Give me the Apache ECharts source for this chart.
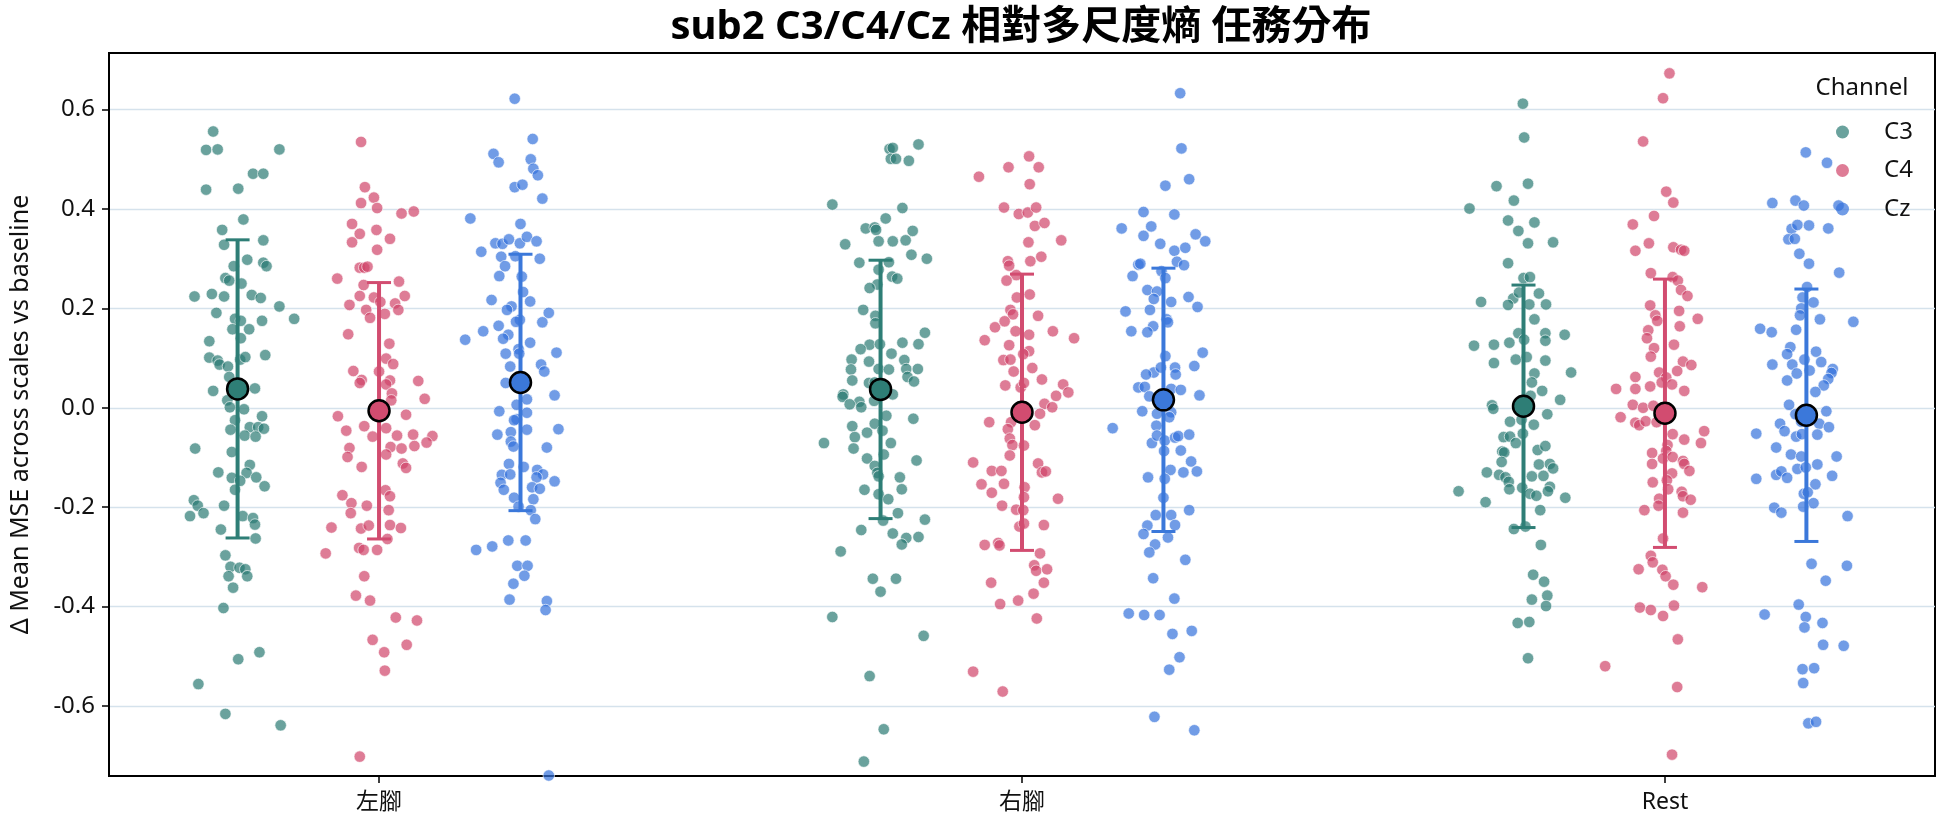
<!DOCTYPE html>
<html>
<head>
<meta charset="utf-8">
<title>sub2 C3/C4/Cz 相對多尺度熵 任務分布</title>
<script src="https://cdn.jsdelivr.net/npm/echarts@6/dist/echarts.min.js"></script>
<style>
  html, body { margin: 0; padding: 0; background: #fff; }
  #chart { width: 1944px; height: 827px; }
</style>
</head>
<body>
<div id="chart"></div>
<script>
// categories / channels
const categories = ['左腳', '右腳', 'Rest'];
const channels = ['C3', 'C4', 'Cz'];
const yTicks = [-0.6, -0.4, -0.2, 0.0, 0.2, 0.4, 0.6];

// per-trial values + horizontal jitter of each dot
const c3Left = [0.556,0.519,0.520,0.520,0.471,0.471,0.439,0.441,0.379,0.358,0.337,0.328,0.298,0.292,0.285,0.285,0.261,0.256,0.250,0.224,0.229,0.224,0.227,0.221,0.204,0.191,0.179,0.179,0.175,0.175,0.158,0.158,0.140,0.134,0.106,0.101,0.095,0.087,0.083,0.097,0.102,0.062,0.034,0.039,0.015,0.001,-0.003,-0.017,-0.025,-0.039,-0.039,-0.042,-0.044,-0.056,-0.058,-0.082,-0.089,-0.115,-0.130,-0.131,-0.141,-0.147,-0.140,-0.158,-0.165,-0.186,-0.197,-0.197,-0.218,-0.212,-0.218,-0.222,-0.235,-0.245,-0.263,-0.297,-0.320,-0.322,-0.325,-0.339,-0.339,-0.362,-0.403,-0.492,-0.506,-0.556,-0.616,-0.639];
const c3LeftJit = [-0.038,-0.049,-0.031,0.065,0.024,0.040,-0.049,0.001,0.009,-0.024,0.040,-0.021,0.015,0.040,0.045,-0.006,-0.019,-0.013,0.006,-0.067,-0.040,-0.021,0.022,0.036,0.065,-0.033,0.088,-0.004,0.005,0.038,-0.008,0.018,0.005,-0.044,0.043,-0.044,-0.031,-0.028,-0.015,0.004,0.012,-0.013,-0.038,0.027,-0.016,-0.012,0.010,0.038,-0.004,0.019,0.032,0.041,-0.011,0.011,0.028,-0.066,-0.009,0.019,-0.030,0.014,-0.009,0.004,0.029,0.042,-0.004,-0.068,-0.062,-0.021,-0.074,-0.053,0.008,0.024,0.027,-0.026,0.028,-0.019,-0.011,0.003,0.012,0.015,-0.014,-0.007,-0.022,0.034,0.001,-0.061,-0.019,0.067];

const c4Left = [0.535,0.444,0.423,0.412,0.402,0.391,0.395,0.370,0.350,0.358,0.333,0.340,0.318,0.282,0.282,0.284,0.260,0.247,0.254,0.225,0.222,0.225,0.207,0.197,0.213,0.210,0.197,0.181,0.189,0.148,0.129,0.099,0.088,0.074,0.073,0.056,0.050,0.055,0.047,0.054,0.029,0.015,0.018,-0.017,-0.014,-0.046,-0.037,-0.058,-0.041,-0.056,-0.054,-0.057,-0.081,-0.079,-0.082,-0.077,-0.070,-0.099,-0.094,-0.119,-0.112,-0.121,-0.176,-0.192,-0.197,-0.166,-0.178,-0.212,-0.206,-0.241,-0.243,-0.237,-0.236,-0.242,-0.264,-0.293,-0.282,-0.286,-0.286,-0.339,-0.378,-0.388,-0.422,-0.428,-0.467,-0.492,-0.477,-0.529,-0.702];
const c4LeftJit = [-0.028,-0.022,-0.008,-0.028,-0.003,0.035,0.054,-0.042,-0.030,-0.004,-0.042,0.017,-0.003,-0.030,-0.023,-0.018,-0.065,-0.024,0.031,-0.030,-0.008,0.040,-0.046,-0.020,0.002,0.025,0.030,-0.014,0.009,-0.048,0.016,0.011,0.022,-0.040,0.000,-0.027,-0.030,0.017,0.011,0.061,0.020,0.019,0.071,-0.064,0.042,-0.051,-0.023,-0.010,0.011,0.028,0.053,0.083,-0.046,0.018,0.035,0.055,0.074,-0.049,0.011,-0.027,0.037,0.042,-0.057,-0.043,-0.019,0.010,0.017,-0.044,0.015,-0.074,-0.028,-0.016,0.017,0.034,0.013,-0.083,-0.031,-0.024,-0.003,-0.023,-0.036,-0.014,0.026,0.059,-0.010,0.008,0.043,0.009,-0.030];

const czLeft = [0.622,0.541,0.511,0.494,0.500,0.481,0.468,0.444,0.449,0.421,0.381,0.370,0.331,0.330,0.339,0.331,0.344,0.335,0.314,0.304,0.300,0.285,0.305,0.265,0.264,0.217,0.233,0.214,0.204,0.197,0.191,0.172,0.177,0.173,0.137,0.154,0.165,0.147,0.139,0.131,0.118,0.109,0.109,0.111,0.083,0.087,0.073,0.050,0.017,0.025,0.006,-0.007,-0.010,-0.023,-0.025,-0.054,-0.049,-0.044,-0.043,-0.068,-0.078,-0.080,-0.113,-0.119,-0.135,-0.134,-0.125,-0.134,-0.140,-0.148,-0.151,-0.165,-0.160,-0.163,-0.181,-0.184,-0.199,-0.206,-0.224,-0.286,-0.279,-0.267,-0.267,-0.318,-0.318,-0.338,-0.354,-0.386,-0.389,-0.407,-0.740];
const czLeftJit = [-0.009,0.019,-0.042,-0.034,0.016,0.020,0.027,-0.009,0.003,0.034,-0.078,0.000,-0.039,-0.028,-0.018,-0.001,0.010,0.025,-0.061,-0.030,0.030,-0.024,-0.008,-0.033,0.002,-0.045,0.004,0.015,-0.014,-0.021,0.044,0.034,-0.001,-0.007,-0.086,-0.058,-0.034,-0.019,-0.027,0.015,-0.003,-0.002,-0.023,0.056,-0.016,0.032,0.037,-0.023,0.010,0.053,-0.006,-0.033,0.010,-0.006,-0.010,-0.036,-0.015,0.010,0.059,-0.015,-0.011,0.041,-0.018,0.005,-0.029,-0.016,0.026,0.035,0.025,0.053,-0.031,-0.026,0.018,0.030,-0.010,0.020,-0.003,0.016,0.023,-0.069,-0.044,-0.019,0.008,-0.005,0.011,0.006,-0.011,-0.017,0.041,0.039,0.044];

const c3Right = [0.530,0.521,0.523,0.501,0.501,0.497,0.409,0.402,0.381,0.361,0.363,0.358,0.356,0.329,0.335,0.335,0.337,0.308,0.300,0.292,0.293,0.278,0.264,0.260,0.248,0.241,0.197,0.185,0.170,0.151,0.127,0.118,0.128,0.131,0.128,0.097,0.093,0.109,0.096,0.077,0.078,0.077,0.078,0.078,0.055,0.050,0.051,0.062,0.053,0.027,0.022,0.012,0.007,0.001,0.014,0.027,-0.016,-0.022,-0.037,-0.032,-0.050,-0.046,-0.071,-0.059,-0.071,-0.082,-0.094,-0.102,-0.117,-0.106,-0.131,-0.138,-0.140,-0.165,-0.164,-0.174,-0.184,-0.227,-0.212,-0.225,-0.246,-0.253,-0.262,-0.275,-0.260,-0.289,-0.344,-0.344,-0.370,-0.421,-0.459,-0.540,-0.647,-0.712];
const c3RightJit = [0.059,0.014,0.019,0.016,0.024,0.044,-0.075,0.034,0.008,-0.023,-0.009,-0.007,0.050,-0.055,-0.003,0.019,0.039,0.048,0.072,-0.033,0.013,-0.003,0.018,0.026,-0.005,-0.017,-0.027,-0.008,-0.008,0.069,-0.017,-0.031,-0.001,0.034,0.059,-0.045,-0.018,0.017,0.037,-0.046,-0.003,0.013,0.040,0.058,-0.044,-0.018,-0.009,0.042,0.052,-0.058,-0.059,-0.033,-0.048,-0.030,-0.010,0.019,0.009,0.051,-0.044,-0.009,-0.021,0.003,-0.088,-0.040,0.016,-0.042,0.005,-0.021,-0.009,0.056,-0.005,-0.003,0.030,-0.025,0.033,-0.003,0.012,0.004,0.027,0.069,-0.030,0.019,0.040,0.033,0.059,-0.062,-0.012,0.024,0.000,-0.075,0.067,-0.017,0.005,-0.026];

const c4Right = [0.506,0.484,0.484,0.465,0.450,0.403,0.390,0.393,0.403,0.366,0.372,0.337,0.333,0.295,0.286,0.295,0.304,0.267,0.256,0.228,0.222,0.197,0.188,0.185,0.162,0.174,0.154,0.147,0.154,0.140,0.136,0.126,0.114,0.108,0.096,0.097,0.073,0.080,0.057,0.045,0.041,0.050,0.047,0.031,0.024,0.008,0.001,-0.012,-0.029,-0.029,-0.043,-0.035,-0.062,-0.075,-0.076,-0.096,-0.110,-0.112,-0.127,-0.127,-0.130,-0.128,-0.154,-0.153,-0.160,-0.171,-0.180,-0.197,-0.205,-0.206,-0.183,-0.239,-0.233,-0.236,-0.276,-0.272,-0.277,-0.293,-0.317,-0.328,-0.325,-0.352,-0.352,-0.395,-0.388,-0.374,-0.424,-0.531,-0.571];
const c4RightJit = [0.011,-0.021,0.026,-0.067,0.012,-0.028,-0.005,0.009,0.022,0.020,0.035,0.061,0.010,-0.022,-0.020,0.013,0.030,-0.009,-0.024,0.012,-0.008,-0.018,-0.014,0.025,-0.042,-0.027,-0.010,0.011,0.048,0.081,-0.058,-0.020,0.011,0.002,-0.029,-0.018,-0.013,0.016,0.031,-0.026,-0.002,0.003,0.064,0.072,0.053,0.035,0.047,0.028,-0.051,-0.017,-0.022,0.020,-0.019,-0.015,0.003,-0.019,-0.076,0.025,-0.047,-0.032,0.031,0.037,-0.063,-0.028,0.004,-0.047,0.003,-0.031,-0.009,0.002,0.056,-0.004,0.003,0.034,-0.058,-0.037,-0.035,0.028,0.019,0.022,0.039,-0.048,0.034,-0.034,-0.006,0.018,0.023,-0.076,-0.030];

const czRight = [0.633,0.522,0.460,0.447,0.394,0.389,0.361,0.365,0.346,0.330,0.349,0.335,0.316,0.322,0.294,0.287,0.288,0.290,0.265,0.275,0.261,0.237,0.234,0.219,0.213,0.223,0.203,0.194,0.197,0.178,0.172,0.164,0.154,0.152,0.104,0.111,0.071,0.081,0.081,0.067,0.067,0.084,0.041,0.042,0.023,0.038,0.036,0.025,-0.007,-0.012,-0.009,-0.041,-0.036,-0.019,-0.071,-0.056,-0.066,-0.060,-0.057,-0.054,-0.087,-0.086,-0.125,-0.108,-0.130,-0.128,-0.140,-0.143,-0.181,-0.216,-0.216,-0.206,-0.236,-0.237,-0.254,-0.261,-0.275,-0.291,-0.306,-0.343,-0.384,-0.414,-0.417,-0.417,-0.455,-0.449,-0.502,-0.527,-0.622,-0.649];
const czRightJit = [0.026,0.028,0.040,0.003,-0.031,0.017,-0.065,-0.019,-0.031,-0.005,0.050,0.065,0.017,0.034,0.021,0.032,-0.039,-0.036,-0.048,-0.003,0.003,-0.025,-0.010,-0.015,0.012,0.039,0.053,-0.059,-0.021,0.005,0.007,-0.016,-0.050,-0.025,0.003,0.061,-0.015,-0.004,0.018,-0.027,0.019,0.048,-0.039,-0.029,-0.022,0.012,0.027,0.056,-0.033,-0.010,0.012,-0.079,-0.011,0.009,-0.018,-0.010,0.002,0.018,0.023,0.040,0.001,0.027,0.011,0.043,0.031,0.052,-0.024,0.002,0.000,-0.012,0.012,0.040,0.018,-0.025,-0.031,0.007,-0.013,-0.022,0.034,-0.016,0.017,-0.054,-0.030,-0.006,0.014,0.044,0.025,0.009,-0.014,0.048];

const c3Rest = [0.612,0.544,0.446,0.451,0.417,0.401,0.377,0.373,0.356,0.331,0.333,0.291,0.261,0.263,0.230,0.213,0.220,0.232,0.207,0.208,0.208,0.178,0.150,0.150,0.135,0.147,0.125,0.127,0.131,0.137,0.090,0.097,0.102,0.095,0.071,0.069,0.051,0.034,0.024,0.016,0.005,-0.002,0.001,-0.013,-0.028,-0.024,-0.034,-0.059,-0.058,-0.071,-0.052,-0.088,-0.090,-0.085,-0.077,-0.109,-0.114,-0.113,-0.122,-0.130,-0.135,-0.140,-0.149,-0.164,-0.161,-0.138,-0.137,-0.159,-0.173,-0.177,-0.168,-0.168,-0.190,-0.181,-0.206,-0.244,-0.239,-0.276,-0.336,-0.350,-0.378,-0.386,-0.399,-0.433,-0.431,-0.504];
const c3RestJit = [-0.001,0.001,-0.042,0.007,-0.015,-0.084,-0.024,0.017,-0.008,0.007,0.046,-0.024,0.000,0.010,0.024,-0.066,-0.016,-0.007,-0.024,0.009,0.035,0.017,-0.008,0.034,0.034,0.064,-0.077,-0.046,-0.022,0.001,-0.046,-0.012,0.005,0.034,0.074,0.017,0.013,0.029,0.011,0.057,-0.049,-0.047,-0.009,0.037,-0.021,-0.003,0.016,-0.031,-0.021,-0.012,-0.001,-0.033,-0.030,0.022,0.034,-0.034,0.024,0.041,0.046,-0.057,-0.038,-0.028,-0.023,-0.022,-0.002,0.013,0.031,0.041,0.010,0.020,0.038,-0.101,-0.059,0.065,0.026,-0.015,0.003,0.027,0.015,0.032,0.037,0.013,0.035,-0.009,0.009,0.007];

const c4Rest = [0.673,0.623,0.536,0.435,0.413,0.386,0.369,0.331,0.316,0.323,0.318,0.316,0.271,0.263,0.256,0.237,0.225,0.206,0.186,0.195,0.179,0.175,0.164,0.156,0.140,0.120,0.127,0.103,0.093,0.086,0.074,0.071,0.061,0.062,0.038,0.038,0.043,0.051,0.047,0.034,0.006,0.000,0.004,-0.019,-0.030,-0.035,-0.027,-0.029,-0.053,-0.064,-0.047,-0.071,-0.075,-0.087,-0.091,-0.113,-0.102,-0.099,-0.107,-0.113,-0.127,-0.132,-0.150,-0.146,-0.164,-0.169,-0.178,-0.185,-0.183,-0.197,-0.206,-0.211,-0.263,-0.298,-0.311,-0.325,-0.326,-0.339,-0.356,-0.361,-0.402,-0.407,-0.398,-0.419,-0.466,-0.520,-0.562,-0.698];
const c4RestJit = [0.007,-0.003,-0.034,0.002,0.013,-0.017,-0.050,-0.025,-0.046,0.013,0.025,0.030,-0.022,0.012,0.020,0.025,0.035,-0.023,-0.015,0.022,0.051,-0.012,0.023,-0.026,-0.028,-0.017,0.014,-0.022,0.028,0.041,0.019,-0.009,0.002,-0.046,-0.046,-0.076,-0.023,-0.005,0.011,0.030,-0.050,-0.034,-0.018,-0.069,-0.046,-0.040,-0.030,-0.013,0.012,0.030,0.061,0.056,0.004,0.002,-0.020,-0.020,-0.003,0.012,0.028,0.030,0.038,0.011,-0.019,0.003,0.005,0.026,0.028,0.040,-0.009,-0.010,-0.032,0.028,-0.003,-0.022,-0.019,-0.041,-0.004,0.001,0.013,0.058,-0.039,-0.022,0.014,-0.003,0.020,-0.093,0.019,0.011];

const czRest = [0.514,0.493,0.412,0.417,0.407,0.407,0.360,0.368,0.367,0.361,0.339,0.340,0.310,0.290,0.272,0.243,0.222,0.212,0.200,0.186,0.178,0.173,0.159,0.152,0.157,0.122,0.108,0.113,0.087,0.087,0.097,0.075,0.092,0.078,0.070,0.069,0.055,0.058,0.045,0.032,0.006,-0.007,-0.013,-0.032,-0.047,-0.028,-0.032,-0.039,-0.052,-0.058,-0.053,-0.054,-0.080,-0.094,-0.098,-0.098,-0.114,-0.143,-0.135,-0.128,-0.141,-0.123,-0.120,-0.137,-0.154,-0.173,-0.170,-0.192,-0.201,-0.211,-0.199,-0.218,-0.314,-0.318,-0.348,-0.396,-0.416,-0.421,-0.442,-0.433,-0.477,-0.479,-0.526,-0.524,-0.554,-0.635,-0.632];
const czRestJit = [-0.001,0.032,-0.053,-0.017,-0.004,0.050,-0.023,-0.014,0.004,0.034,-0.028,-0.018,-0.011,0.004,0.051,0.001,-0.006,0.011,-0.008,-0.010,0.021,0.073,-0.072,-0.054,-0.016,-0.025,-0.030,0.015,-0.053,-0.022,-0.003,0.005,0.023,0.041,0.039,-0.015,-0.030,0.034,0.027,0.014,-0.027,0.031,-0.017,-0.041,-0.034,-0.008,0.020,0.035,-0.078,-0.016,-0.007,0.017,-0.047,-0.024,-0.008,0.047,0.017,-0.078,-0.047,-0.039,-0.030,-0.014,-0.001,0.040,0.014,-0.004,0.002,0.011,-0.050,-0.039,-0.005,0.064,0.008,0.063,0.030,-0.012,-0.065,-0.001,-0.003,0.025,0.026,0.058,-0.006,0.012,-0.005,0.003,0.015];

const meanC3 = [0.038, 0.037, 0.003];
const sdC3 = [0.300, 0.260, 0.244];
const meanC4 = [-0.006, -0.009, -0.011];
const sdC4 = [0.258, 0.278, 0.270];
const meanCz = [0.051, 0.016, -0.015];
const sdCz = [0.258, 0.265, 0.254];

// ---------- build ----------
const values = [[c3Left, c3Right, c3Rest], [c4Left, c4Right, c4Rest], [czLeft, czRight, czRest]];
const jitters = [[c3LeftJit, c3RightJit, c3RestJit], [c4LeftJit, c4RightJit, c4RestJit], [czLeftJit, czRightJit, czRestJit]];
const means = [meanC3, meanC4, meanCz];
const sds = [sdC3, sdC4, sdCz];
const dodge = [-0.22, 0, 0.22];

const dotColor = ['#2b7b73', '#d0456a', '#3572dc'];
const barColor = ['#2e7e76', '#d24c70', '#3b78da'];
const FONT = "'Noto Sans', 'Noto Sans CJK TC', sans-serif";

function dotsFor(k) {
    var out = [];
    values[k].forEach(function (vals, c) {
        var jit = jitters[k][c];
        vals.forEach(function (v, i) {
            out.push([c + dodge[k] + (jit[i] || 0), v]);
        });
    });
    return out;
}

var series = [];
channels.forEach(function (name, k) {
    series.push({
        name: name,
        type: 'scatter',
        data: dotsFor(k),
        symbol: 'circle',
        symbolSize: 11.5,
        z: 2,
        itemStyle: { color: dotColor[k], opacity: 0.7, borderColor: '#ffffff', borderWidth: 0.9 },
        emphasis: { disabled: true }
    });
});
channels.forEach(function (name, k) {
    series.push({
        name: name + ' sd',
        type: 'custom',
        z: 3,
        data: categories.map(function (_, c) {
            return [c + dodge[k], means[k][c] - sds[k][c], means[k][c] + sds[k][c]];
        }),
        encode: { x: 0, y: [1, 2] },
        renderItem: function (params, api) {
            var x = api.value(0);
            var lo = api.coord([x, api.value(1)]);
            var hi = api.coord([x, api.value(2)]);
            var cap = 12;
            var col = barColor[k];
            return {
                type: 'group',
                children: [
                    { type: 'line', shape: { x1: lo[0], y1: lo[1], x2: hi[0], y2: hi[1] }, style: { stroke: col, lineWidth: 4 } },
                    { type: 'line', shape: { x1: hi[0] - cap, y1: hi[1], x2: hi[0] + cap, y2: hi[1] }, style: { stroke: col, lineWidth: 3 } },
                    { type: 'line', shape: { x1: lo[0] - cap, y1: lo[1], x2: lo[0] + cap, y2: lo[1] }, style: { stroke: col, lineWidth: 3 } }
                ]
            };
        }
    });
});
channels.forEach(function (name, k) {
    series.push({
        name: name + ' mean',
        type: 'scatter',
        z: 4,
        symbolSize: 21,
        data: categories.map(function (_, c) { return [c + dodge[k], means[k][c]]; }),
        itemStyle: { color: barColor[k], opacity: 1, borderColor: '#000', borderWidth: 2.5 },
        emphasis: { disabled: true }
    });
});

var chartDom = document.getElementById('chart');
var myChart = echarts.init(chartDom);
var option = {
    animation: false,
    backgroundColor: '#ffffff',
    textStyle: { fontFamily: FONT },
    grid: { left: 107, right: 9, top: 53, bottom: 51, show: true, borderColor: '#000', borderWidth: 2, backgroundColor: 'transparent' },
    legend: {
        data: channels,
        orient: 'vertical',
        left: 1831,
        top: 114,
        itemWidth: 13,
        itemHeight: 13,
        itemGap: 12.5,
        icon: 'circle',
        selectedMode: false,
        itemStyle: { borderWidth: 0, opacity: 0.7 },
        textStyle: { fontSize: 24, lineHeight: 26, color: '#111', fontFamily: FONT, padding: [0, 0, 0, 30] }
    },
    graphic: [
        {
            type: 'text', x: 1021, y: 28,
            style: { text: 'sub2 C3/C4/Cz 相對多尺度熵 任務分布', textAlign: 'center', textVerticalAlign: 'middle',
                     font: 'bold 40px ' + FONT, fill: '#000' }
        },
        {
            type: 'text', x: 1862, y: 88,
            style: { text: 'Channel', textAlign: 'center', textVerticalAlign: 'middle', font: '24px ' + FONT, fill: '#111' }
        }
    ],
    xAxis: {
        type: 'value',
        min: -0.42,
        max: 2.42,
        axisLine: { show: true, onZero: false, lineStyle: { color: '#000', width: 2 } },
        axisTick: { show: true, customValues: [0, 1, 2], length: 7, lineStyle: { color: '#000', width: 1.5 } },
        axisLabel: {
            customValues: [0, 1, 2], fontSize: 23, color: '#111', margin: 15,
            formatter: function (v) { return categories[Math.round(v)]; }
        },
        splitLine: { show: false }
    },
    yAxis: {
        type: 'value',
        min: -0.741,
        max: 0.714,
        name: 'Δ Mean MSE across scales vs baseline',
        nameLocation: 'middle',
        nameGap: 76,
        nameTextStyle: { fontSize: 25, color: '#111' },
        axisLine: { show: true, onZero: false, lineStyle: { color: '#000', width: 2 } },
        axisTick: { show: true, customValues: yTicks, length: 7, lineStyle: { color: '#000', width: 1.5 } },
        axisLabel: {
            customValues: yTicks, fontSize: 24, color: '#111', margin: 14,
            formatter: function (v) { return v.toFixed(1); }
        },
        splitLine: { show: true, lineStyle: { color: '#d5e2ec', width: 1.3 } }
    },
    series: series
};
option && myChart.setOption(option);
</script>
</body>
</html>
